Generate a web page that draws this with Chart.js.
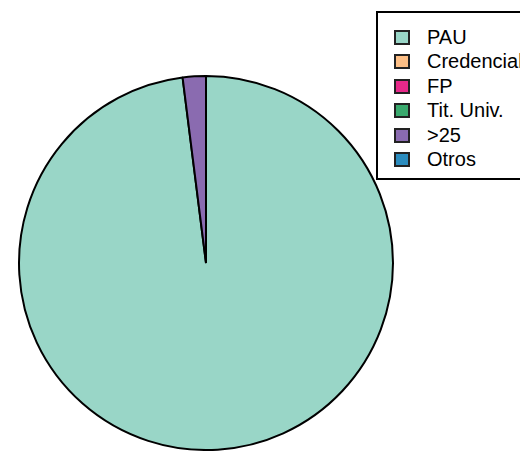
<!DOCTYPE html>
<html>
<head>
<meta charset="utf-8">
<script src="https://cdn.jsdelivr.net/npm/chart.js@4"></script>
<style>
html,body{margin:0;padding:0;background:#fff;overflow:hidden;}
#wrap{position:absolute;left:0;top:0;width:520px;height:451px;}
#legend{position:absolute;left:376px;top:11px;width:170px;height:169px;border:2px solid #000;background:#fff;box-sizing:border-box;font-family:"Liberation Sans",Arial,sans-serif;font-size:20px;color:#000;}
.item{position:absolute;left:16px;height:22px;line-height:22px;white-space:nowrap;}
.sw{position:absolute;left:0;top:4px;width:12px;height:11px;border:2px solid #222;}
.lb{position:absolute;left:33px;top:0;}
</style>
</head>
<body>
<div id="wrap"><canvas id="c" width="520" height="451"></canvas></div>
<div id="legend"></div>
<script>
const categories = ["PAU", "Credencial", "FP", "Tit. Univ.", ">25", "Otros"];
const values = [98, 0, 0, 0, 2, 0];
const colors = ["#99d6c7", "#fdbf86", "#e7298a", "#3aaa6e", "#8a6bb0", "#2b8cbe"];

const lg = document.getElementById('legend');
categories.forEach((c, i) => {
  const d = document.createElement('div');
  d.className = 'item';
  d.style.top = (13 + i * 24.4) + 'px';
  const s = document.createElement('span');
  s.className = 'sw';
  s.style.background = colors[i];
  const t = document.createElement('span');
  t.className = 'lb';
  t.textContent = c;
  d.appendChild(s); d.appendChild(t);
  lg.appendChild(d);
});

new Chart(document.getElementById('c'), {
  type: 'pie',
  data: {
    labels: categories,
    datasets: [{
      data: values,
      backgroundColor: colors,
      borderColor: '#000',
      borderWidth: 2,
      hoverOffset: 0
    }]
  },
  options: {
    responsive: false,
    animation: false,
    events: [],
    layout: { padding: { left: 17, right: 125, top: 75, bottom: 0 } },
    plugins: { legend: { display: false }, tooltip: { enabled: false } }
  }
});
</script>
</body>
</html>
